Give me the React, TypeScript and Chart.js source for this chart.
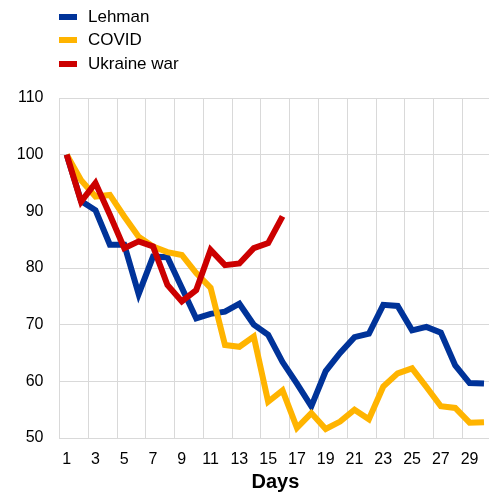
import React, { useEffect, useRef } from "react";
import { Chart, registerables } from "chart.js";

Chart.register(...registerables);

const days: string[] = Array.from({ length: 30 }, (_, i) => String(i + 1));

const lehman: number[] = [
  100, 91.8, 90.2, 84.1, 84.1, 75.4, 82.0, 81.9, 76.5, 71.1,
  71.9, 72.3, 73.7, 70.0, 68.2, 63.4, 59.6, 55.6, 61.8, 65.0,
  67.8, 68.4, 73.5, 73.3, 69.0, 69.6, 68.6, 62.8, 59.7, 59.6,
];

const covid: number[] = [
  100, 95.5, 92.6, 92.9, 89.1, 85.5, 83.8, 82.8, 82.3, 79.1,
  76.5, 66.4, 66.1, 67.9, 56.4, 58.4, 51.8, 54.4, 51.6, 52.9,
  55.0, 53.3, 59.1, 61.4, 62.3, 59.0, 55.6, 55.3, 52.7, 52.8,
];

const ukraine: (number | null)[] = [
  100, 91.7, 95.0, 89.4, 83.5, 84.7, 83.8, 77.0, 74.1, 76.1,
  83.2, 80.5, 80.8, 83.5, 84.4, 89.1, null, null, null, null,
  null, null, null, null, null, null, null, null, null, null,
];

const seriesNames = ["Lehman", "COVID", "Ukraine war"];
const seriesColors = ["#003399", "#ffb400", "#cc0000"];

const yMin = 50;
const yMax = 110;
const yStep = 10;
const xTitle = "Days";

const FONT = "'Liberation Sans', Arial, sans-serif";
const GRID = "#d9d9d9";

export default function App() {
  const canvasRef = useRef<HTMLCanvasElement | null>(null);

  useEffect(() => {
    document.body.style.overflow = "hidden";
    const canvas = canvasRef.current;
    if (!canvas) return;
    const chart = new Chart(canvas, {
      type: "line",
      data: {
        labels: days,
        datasets: [
          { label: seriesNames[0], data: lehman, borderColor: seriesColors[0], backgroundColor: seriesColors[0], order: 3 },
          { label: seriesNames[1], data: covid, borderColor: seriesColors[1], backgroundColor: seriesColors[1], order: 2 },
          { label: seriesNames[2], data: ukraine, borderColor: seriesColors[2], backgroundColor: seriesColors[2], order: 1 },
        ].map((d) => ({ ...d, borderWidth: 6, pointRadius: 0, pointHoverRadius: 0, tension: 0, fill: false })),
      },
      options: {
        animation: false,
        responsive: false,
        devicePixelRatio: 1,
        layout: { padding: { top: 98, left: 0, right: 0, bottom: 0 } },
        plugins: {
          legend: { display: false },
          tooltip: { enabled: false },
        },
        scales: {
          x: {
            type: "category",
            offset: true,
            grid: {
              offset: true,
              drawTicks: false,
              color: (ctx: any) => (ctx.index % 2 === 0 ? GRID : "rgba(0,0,0,0)"),
              lineWidth: 1,
            },
            border: { color: GRID, width: 1 },
            ticks: {
              autoSkip: false,
              maxRotation: 0,
              minRotation: 0,
              padding: 12,
              color: "#000",
              font: { family: FONT, size: 16 },
              callback: (_v: any, index: number) => (index % 2 === 0 ? days[index] : ""),
            },
            title: {
              display: true,
              text: xTitle,
              color: "#000",
              font: { family: FONT, size: 20, weight: "bold" },
              padding: { top: 0, bottom: 2 },
            },
            afterFit: (axis: any) => {
              axis.height = 58;
            },
          },
          y: {
            min: yMin,
            max: yMax,
            grid: { color: GRID, drawTicks: false, lineWidth: 1 },
            border: { color: GRID, width: 1 },
            ticks: {
              stepSize: yStep,
              padding: 16,
              color: "#000",
              font: { family: FONT, size: 16 },
            },
            afterFit: (axis: any) => {
              axis.width = 59.5;
            },
          },
        },
      },
    });
    return () => chart.destroy();
  }, []);

  const legendCenters = [17, 39.5, 64];

  return (
    <div style={{ position: "absolute", left: 0, top: 0, width: 496, height: 496 }}>
      <canvas ref={canvasRef} width={496} height={496} style={{ display: "block" }} />
      {seriesNames.map((name, i) => (
        <div
          key={name}
          style={{
            position: "absolute",
            left: 59,
            top: legendCenters[i] - 10,
            height: 20,
            display: "flex",
            alignItems: "center",
            fontFamily: FONT,
            fontSize: 17,
            lineHeight: "20px",
            color: "#000",
            whiteSpace: "nowrap",
          }}
        >
          <span style={{ display: "inline-block", width: 18, height: 6, background: seriesColors[i], marginRight: 11 }} />
          <span>{name}</span>
        </div>
      ))}
    </div>
  );
}
